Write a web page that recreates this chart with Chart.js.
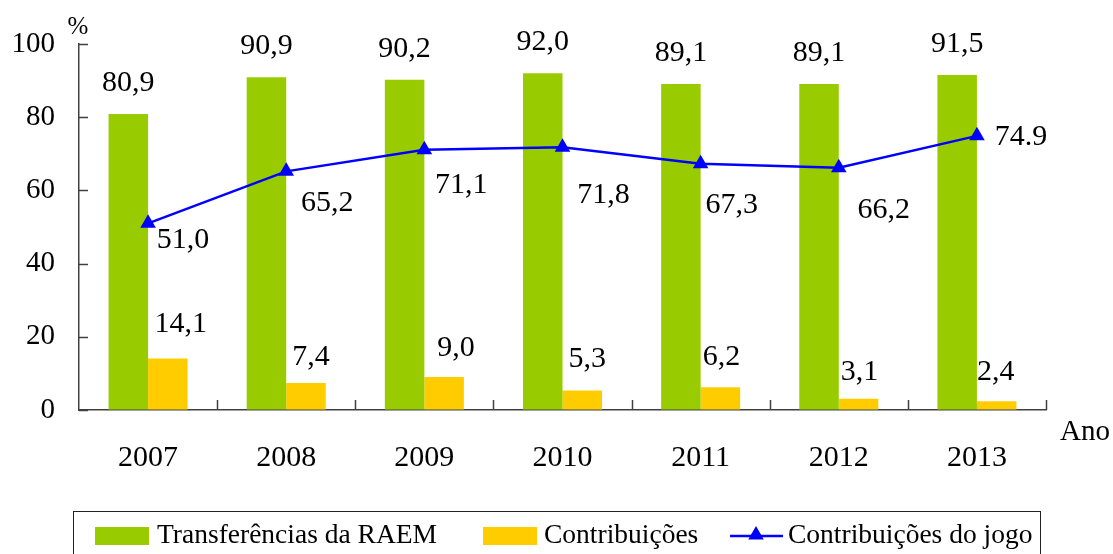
<!DOCTYPE html>
<html>
<head>
<meta charset="utf-8">
<script src="https://cdn.jsdelivr.net/npm/chart.js@4"></script>
<style>
  html, body { margin: 0; padding: 0; background: #fff; }
  #wrap { width: 1113px; height: 554px; }
</style>
</head>
<body>
<div id="wrap"><canvas id="grafico" width="1113" height="554"></canvas></div>
<script>
const anos = ['2007', '2008', '2009', '2010', '2011', '2012', '2013'];
const transferencias = [80.9, 90.9, 90.2, 92.0, 89.1, 89.1, 91.5];
const contribuicoes = [14.1, 7.4, 9.0, 5.3, 6.2, 3.1, 2.4];
const contribJogo = [51.0, 65.2, 71.1, 71.8, 67.3, 66.2, 74.9];
const jogoTextos = ['51,0', '65,2', '71,1', '71,8', '67,3', '66,2', '74.9'];
const yTicks = [0, 20, 40, 60, 80, 100];

// label offsets (pixels) relative to the mark
const offVerde = [[0, -31], [0, -31], [0, -31], [0, -31], [0, -31], [0, -31], [0, -31]];
const offAmarelo = [[13, -34], [5, -26], [12, -29], [5, -31], [1, -30], [1, -27], [-1, -29]];
const offLinha = [[35, 17], [41, 32], [37, 35], [41, 48], [31, 41], [45, 42], [44, 1]];

const FONTE = '"Liberation Serif", "Times New Roman", serif';
const VERDE = '#99CC00';
const AMARELO = '#FFCC00';
const AZUL = '#0000FF';
const EIXO = '#404040';

const fmt = v => v.toFixed(1).replace('.', ',');

function triangulo(ctx, x, y, r) {
  ctx.beginPath();
  ctx.moveTo(x, y - r);
  ctx.lineTo(x + r * Math.sin(2 * Math.PI / 3), y + r / 2);
  ctx.lineTo(x - r * Math.sin(2 * Math.PI / 3), y + r / 2);
  ctx.closePath();
  ctx.fill();
}

const extras = {
  id: 'extras',
  afterDatasetsDraw(chart) {
    const ctx = chart.ctx;
    const area = chart.chartArea;
    const y = chart.scales.y;
    ctx.save();

    // tick marks
    ctx.strokeStyle = EIXO;
    ctx.lineWidth = 1.5;
    yTicks.forEach(t => {
      const py = Math.round(y.getPixelForValue(t)) + 0.5;
      ctx.beginPath();
      ctx.moveTo(area.left, py);
      ctx.lineTo(area.left + 9, py);
      ctx.stroke();
    });
    const passo = (area.right - area.left) / anos.length;
    for (let i = 1; i <= anos.length; i++) {
      const px = Math.round(area.left + i * passo) + 0.5;
      ctx.beginPath();
      ctx.moveTo(px, area.bottom);
      ctx.lineTo(px, area.bottom - 10);
      ctx.stroke();
    }

    // data labels
    ctx.fillStyle = '#000';
    ctx.font = '30px ' + FONTE;
    ctx.textAlign = 'center';
    ctx.textBaseline = 'middle';
    chart.getDatasetMeta(0).data.forEach((el, i) => {
      ctx.fillText(fmt(transferencias[i]), el.x + offVerde[i][0], el.y + offVerde[i][1]);
    });
    chart.getDatasetMeta(1).data.forEach((el, i) => {
      ctx.fillText(fmt(contribuicoes[i]), el.x + offAmarelo[i][0], el.y + offAmarelo[i][1]);
    });
    chart.getDatasetMeta(2).data.forEach((el, i) => {
      ctx.fillText(jogoTextos[i], el.x + offLinha[i][0], el.y + offLinha[i][1]);
    });

    // axis titles
    ctx.font = '25px ' + FONTE;
    ctx.fillText('%', 78, 27);
    ctx.font = '29px ' + FONTE;
    ctx.fillText('Ano', 1085, 432);

    // legend
    ctx.strokeStyle = '#222';
    ctx.lineWidth = 1;
    ctx.strokeRect(73.5, 511.5, 967, 60);
    ctx.font = '27.5px ' + FONTE;
    ctx.textAlign = 'left';
    const ly = 536;
    ctx.fillStyle = VERDE;
    ctx.fillRect(95, 527, 54, 18);
    ctx.fillStyle = AMARELO;
    ctx.fillRect(483, 527, 54, 18);
    ctx.strokeStyle = AZUL;
    ctx.lineWidth = 2.5;
    ctx.beginPath();
    ctx.moveTo(730, ly);
    ctx.lineTo(783, ly);
    ctx.stroke();
    ctx.fillStyle = AZUL;
    triangulo(ctx, 756, ly - 1, 9);
    ctx.fillStyle = '#000';
    const ds = chart.data.datasets;
    ctx.fillText(ds[0].label, 157, ly);
    ctx.fillText(ds[1].label, 544, ly);
    ctx.fillText(ds[2].label, 788, ly);

    ctx.restore();
  }
};

Chart.defaults.font.family = FONTE;
Chart.defaults.color = '#000';

new Chart(document.getElementById('grafico'), {
  type: 'bar',
  data: {
    labels: anos,
    datasets: [
      {
        label: 'Transferências da RAEM',
        data: transferencias,
        backgroundColor: VERDE,
        categoryPercentage: 0.572,
        barPercentage: 1,
        order: 2
      },
      {
        label: 'Contribuições',
        data: contribuicoes,
        backgroundColor: AMARELO,
        categoryPercentage: 0.572,
        barPercentage: 1,
        order: 2
      },
      {
        type: 'line',
        label: 'Contribuições do jogo',
        data: contribJogo,
        borderColor: AZUL,
        borderWidth: 2.5,
        pointStyle: 'triangle',
        pointRadius: 9,
        pointBackgroundColor: AZUL,
        pointBorderWidth: 0,
        tension: 0,
        order: 1
      }
    ]
  },
  options: {
    responsive: false,
    animation: false,
    layout: { padding: { top: 44, right: 67, left: 0, bottom: 0 } },
    plugins: {
      legend: { display: false },
      tooltip: { enabled: false }
    },
    scales: {
      x: {
        grid: { display: true, drawOnChartArea: false, drawTicks: false },
        border: { display: true, color: EIXO, width: 1.5 },
        ticks: { font: { size: 30 }, padding: 30, color: '#000' },
        afterFit: s => { s.height = 144; }
      },
      y: {
        min: 0,
        max: 100,
        grid: { display: true, drawOnChartArea: false, drawTicks: false },
        border: { display: true, color: EIXO, width: 1.5 },
        ticks: { stepSize: 20, font: { size: 29 }, padding: 24, color: '#000' },
        afterFit: s => { s.width = 79; }
      }
    }
  },
  plugins: [extras]
});
</script>
</body>
</html>
